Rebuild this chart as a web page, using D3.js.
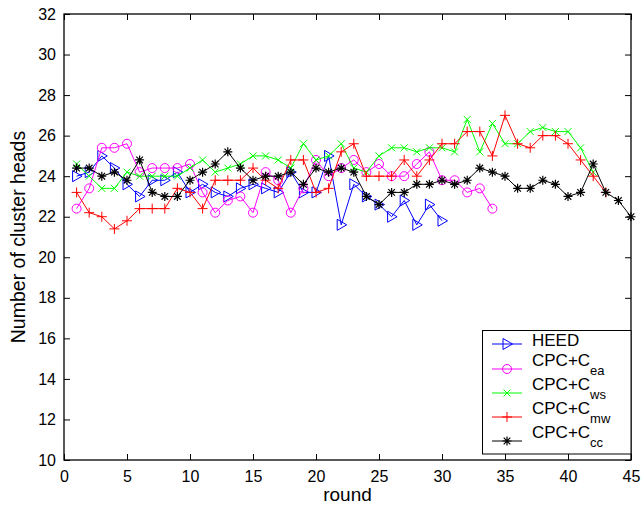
<!DOCTYPE html>
<html><head><meta charset="utf-8">
<script src="https://cdn.jsdelivr.net/npm/d3@7"></script>
<style>body{margin:0;background:#fff}svg{display:block}text{font-family:"Liberation Sans",Arial,Helvetica,sans-serif}</style>
</head><body><svg id="c" width="642" height="506"></svg>
<script>
const heed = [24.0,24.2,25.0,24.4,23.6,23.0,23.8,23.8,24.2,23.2,23.6,23.2,23.0,23.4,23.6,23.4,23.2,24.2,23.2,23.2,25.0,21.6,23.6,23.0,22.6,22.0,22.8,21.6,22.6,21.8];
const cpcEa = [22.4,23.4,25.4,25.4,25.6,24.2,24.4,24.4,24.4,24.6,23.2,22.2,22.8,23.0,22.2,24.2,23.8,22.2,23.4,24.8,24.0,24.4,24.8,24.2,24.6,24.0,24.0,24.6,25.2,23.8,23.8,23.2,23.4,22.4];
const cpcWs = [24.6,24.0,23.4,23.4,24.2,24.0,24.0,24.0,24.0,24.4,24.8,24.2,24.4,24.6,25.0,25.0,24.8,24.4,25.6,24.8,25.0,25.6,24.4,24.2,25.0,25.4,25.4,25.2,25.4,25.4,25.2,26.8,25.2,26.6,25.6,25.6,26.2,26.4,26.2,26.2,25.4,24.2];
const cpcMw = [23.2,22.2,22.0,21.4,21.8,22.4,22.4,22.4,23.4,23.2,22.4,23.8,23.8,23.8,24.4,23.8,23.4,24.8,24.8,23.2,23.4,25.2,25.6,24.0,24.0,24.0,24.8,24.0,24.8,25.6,25.6,26.2,26.2,25.0,27.0,25.6,25.4,26.0,26.0,25.6,24.8,24.0,23.2];
const cpcCc = [24.4,24.4,24.0,24.2,23.8,24.8,23.2,23.0,23.0,23.8,24.2,24.6,25.2,24.4,23.8,24.0,24.0,24.2,23.6,24.4,24.2,24.4,24.2,23.0,22.6,23.2,23.2,23.6,23.6,23.8,23.6,23.8,24.4,24.2,24.0,23.4,23.4,23.8,23.6,23.0,23.2,24.6,23.2,22.8,22.0];
const xTicks = [0,5,10,15,20,25,30,35,40,45];
const yTicks = [10,12,14,16,18,20,22,24,26,28,30,32];
const seriesNames = ["HEED","CPC+C","CPC+C","CPC+C","CPC+C"];
const seriesSubs = ["","ea","ws","mw","cc"];
const seriesColors = ["#0000ff","#ff00ff","#00ff00","#ff0000","#000000"];
const seriesMarkers = ["tri","circle","x","plus","star"];
const seriesData = [heed,cpcEa,cpcWs,cpcMw,cpcCc];

const svg = d3.select("#c");
const L=64,R=631,T=14,B=460;
const x = d3.scaleLinear().domain([0,45]).range([L,R]);
const y = d3.scaleLinear().domain([10,32]).range([B,T]);

function marker(g, kind, color){
  if(kind==="tri"){
    g.append("path").attr("d","M-4,-5.5L5.5,0L-4,5.5Z").attr("fill","none").attr("stroke",color).attr("stroke-width",1);
  } else if(kind==="circle"){
    g.append("circle").attr("r",4.5).attr("fill","none").attr("stroke",color).attr("stroke-width",1);
  } else if(kind==="x"){
    g.append("path").attr("d","M-3.5,-3.5L3.5,3.5M-3.5,3.5L3.5,-3.5").attr("stroke",color).attr("stroke-width",1);
  } else if(kind==="plus"){
    g.append("path").attr("d","M-5,0L5,0M0,-5L0,5").attr("stroke",color).attr("stroke-width",1);
  } else {
    g.append("path").attr("d","M-4.5,0L4.5,0M0,-4.5L0,4.5M-3.3,-3.3L3.3,3.3M-3.3,3.3L3.3,-3.3").attr("stroke",color).attr("stroke-width",1.2);
  }
}

const tl = 6;
const gB = svg.append("g").attr("transform",`translate(0,${B})`).call(d3.axisBottom(x).tickValues(xTicks).tickSize(-tl).tickPadding(11));
const gT = svg.append("g").attr("transform",`translate(0,${T})`).call(d3.axisTop(x).tickValues(xTicks).tickSize(-tl).tickFormat(""));
const gL = svg.append("g").attr("transform",`translate(${L},0)`).call(d3.axisLeft(y).tickValues(yTicks).tickSize(-tl).tickPadding(8));
const gR = svg.append("g").attr("transform",`translate(${R},0)`).call(d3.axisRight(y).tickValues(yTicks).tickSize(-tl).tickFormat(""));
[gB,gT,gL,gR].forEach(g=>{
  g.select(".domain").remove();
  g.selectAll(".tick line").attr("stroke","#000").attr("stroke-width",1);
  g.selectAll("text").attr("font-size",16).attr("fill","#000").attr("font-family","Liberation Sans, Arial, sans-serif");
});
gB.selectAll("text").attr("dy","0.71em");

const line = d3.line().x((d,i)=>x(i+1)).y(d=>y(d));
seriesData.forEach((data,k)=>{
  const col = seriesColors[k];
  svg.append("path").datum(data).attr("d",line).attr("fill","none").attr("stroke",col).attr("stroke-width",1);
  data.forEach((v,i)=>{
    const g = svg.append("g").attr("transform",`translate(${x(i+1)},${y(v)})`);
    marker(g, seriesMarkers[k], col);
  });
});

svg.append("rect").attr("x",L).attr("y",T).attr("width",R-L).attr("height",B-T).attr("fill","none").attr("stroke","#000").attr("stroke-width",1.3);

const lg = svg.append("g");
lg.append("rect").attr("x",482.5).attr("y",330.5).attr("width",148.5).attr("height",123.5).attr("fill","#fff").attr("stroke","#000").attr("stroke-width",1);
const rowY = [344,369,393,417,441];
seriesNames.forEach((nm,k)=>{
  const ry = rowY[k];
  lg.append("line").attr("x1",492).attr("x2",522).attr("y1",ry).attr("y2",ry).attr("stroke",seriesColors[k]).attr("stroke-width",1);
  const g = lg.append("g").attr("transform",`translate(507,${ry})`);
  marker(g, seriesMarkers[k], seriesColors[k]);
  if(k===0){
    lg.append("text").attr("x",532).attr("y",ry+2).attr("font-size",17).text(nm);
  } else {
    const t = lg.append("text").attr("x",532).attr("y",ry-3).attr("font-size",17);
    t.append("tspan").text(nm);
    t.append("tspan").attr("dy",9).attr("font-size",13).text(seriesSubs[k]);
  }
});

svg.append("text").attr("x",(L+R)/2).attr("y",501).attr("text-anchor","middle").attr("font-size",19).text("round");
svg.append("text").attr("transform",`translate(25,${(T+B)/2}) rotate(-90)`).attr("text-anchor","middle").attr("font-size",19.5).text("Number of cluster heads");
</script></body></html>
